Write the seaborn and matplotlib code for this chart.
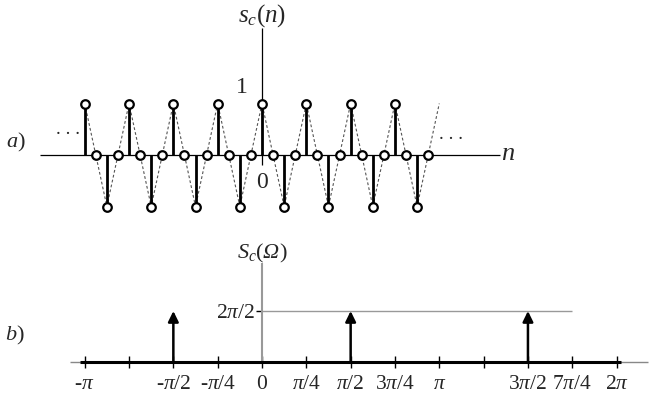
import numpy as np
import pandas as pd
import seaborn as sns
import matplotlib.pyplot as plt

# a) sampled cosine s_c(n)
n_samples = list(range(-16, 16))
s_values = [1, 0, -1, 0, 1, 0, -1, 0, 1, 0, -1, 0, 1, 0, -1, 0,
            1, 0, -1, 0, 1, 0, -1, 0, 1, 0, -1, 0, 1, 0, -1, 0]
# dashed envelope runs one sample further to the right
curve_n = list(range(-16, 17))
curve_values = s_values + [1]

# b) spectrum S_c(Omega): impulses (positions in units of pi)
impulse_pos = [-0.5, 0.5, 1.5]
impulse_amp = [np.pi, np.pi, np.pi]
tick_pos = [-1, -0.75, -0.5, -0.25, 0, 0.25, 0.5, 0.75, 1, 1.25, 1.5, 1.75, 2]
tick_labels = ['-$\\pi$', '', '-$\\pi$/2', '-$\\pi$/4', '0', '$\\pi$/4', '$\\pi$/2',
               '3$\\pi$/4', '$\\pi$', '', '3$\\pi$/2', '7$\\pi$/4', '2$\\pi$']

sns.set_style('white')
plt.rcParams['font.family'] = ['Liberation Serif', 'DejaVu Serif']
plt.rcParams['mathtext.fontset'] = 'custom'
plt.rcParams['mathtext.rm'] = 'Liberation Serif'
plt.rcParams['mathtext.it'] = 'Liberation Serif:italic'
# italic capital Omega (mathtext forces Greek capitals upright in 'it')
plt.rcParams['mathtext.sf'] = 'Liberation Serif:italic'

fig = plt.figure(figsize=(6.5, 4), dpi=100)

# ---------- top panel ----------
ax1 = fig.add_axes([0, 170 / 400, 1, 230 / 400])
ax1.set_xlim(-262 / 11.08, 388 / 11.08)
ax1.set_ylim(-1.456, 3.01)
ax1.axis('off')

ax1.hlines(0, -20, 21.5, color='black', lw=0.9, zorder=1)
ax1.vlines(0, -0.19, 2.47, color='black', lw=0.9, zorder=1)

df_curve = pd.DataFrame({'n': curve_n, 's': curve_values})
sns.lineplot(data=df_curve, x='n', y='s', ax=ax1, color='#555555', lw=0.8,
             linestyle=(0, (2.5, 2)), zorder=2)

ax1.vlines(n_samples, 0, s_values, color='black', lw=2.0, zorder=3)
df_s = pd.DataFrame({'n': n_samples, 's': s_values})
sns.scatterplot(data=df_s, x='n', y='s', ax=ax1, s=38, facecolor='white',
                edgecolor='black', linewidth=1.6, zorder=4)
ax1.set_xlabel('')
ax1.set_ylabel('')

ax1.text(0, 2.70, '$s_c(n)$', fontsize=18, ha='center', va='center')
ax1.text(-1.8, 1.32, '1', fontsize=17, ha='center', va='center')
ax1.text(0, -0.54, '0', fontsize=17, ha='center', va='center')
ax1.text(22.2, 0.02, '$n$', fontsize=19, ha='center', va='center')
ax1.text(-17.5, 0.41, '. . .', fontsize=14, ha='center', va='baseline')
ax1.text(17.1, 0.31, '. . .', fontsize=14, ha='center', va='baseline')
fig.text(16 / 650, 1 - 142 / 400, '$a)$', fontsize=16, ha='center', va='center')

# ---------- bottom panel ----------
ax2 = fig.add_axes([0, 0, 1, 170 / 400])
ax2.set_xlim(-262 / 177.3 * np.pi, 388 / 177.3 * np.pi)
ax2.set_ylim(-0.745 * np.pi, 2.588 * np.pi)
for sp in ax2.spines.values():
    sp.set_visible(False)
ax2.spines['bottom'].set_position(('data', 0))
ax2.spines['left'].set_position(('data', 0))

ax2.hlines(0, -1.083 * np.pi, 2.177 * np.pi, color='#888888', lw=1.0, zorder=1)
ax2.hlines(0, -1.027 * np.pi, 2.025 * np.pi, color='black', lw=2.2, zorder=2)
ax2.vlines(0, 0, 1.94 * np.pi, color='#999999', lw=1.5, zorder=1)
ax2.hlines(np.pi, 0, 1.75 * np.pi, color='#999999', lw=1.0, zorder=1)

for w, a in zip(impulse_pos, impulse_amp):
    ax2.annotate('', xy=(w * np.pi, a), xytext=(w * np.pi, 0),
                 arrowprops=dict(arrowstyle='-|>,head_length=0.45,head_width=0.22',
                                 lw=1.8, color='black', mutation_scale=14,
                                 shrinkA=0, shrinkB=0), zorder=3)

ax2.set_xticks([p * np.pi for p in tick_pos])
ax2.set_xticklabels(tick_labels, fontsize=15.5)
ax2.tick_params(axis='x', bottom=True, direction='inout', length=8, width=1,
                color='black', pad=5)
ax2.set_yticks([np.pi])
ax2.set_yticklabels(['2$\\pi$/2'], fontsize=15.5)
ax2.tick_params(axis='y', left=True, direction='out', length=4, width=1,
                color='black', pad=1)

ax2.text(0, 2.137 * np.pi, '$S_c(\\mathsf{\\Omega})$', fontsize=16, ha='center', va='center')
fig.text(15 / 650, 1 - 335 / 400, '$b)$', fontsize=16, ha='center', va='center')

fig.savefig('out.png', dpi=100)
